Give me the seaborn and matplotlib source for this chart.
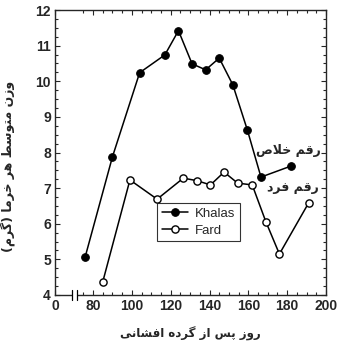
import matplotlib
matplotlib.use("Agg")
import matplotlib.pyplot as plt
import matplotlib.transforms as mtransforms
import seaborn as sns
import pandas as pd

# ── data ──────────────────────────────────────────────────────────────────────
khalas_day = [76, 90, 104, 117, 124, 131, 138, 145, 152, 159.5, 166.5, 182]
khalas_weight = [5.08, 7.88, 10.24, 10.74, 11.42, 10.49, 10.32, 10.65, 9.9, 8.63, 7.31, 7.62]

fard_day = [85, 99, 113, 126.5, 133.5, 140.5, 147.5, 154.5, 162, 169, 176, 191]
fard_weight = [4.37, 7.23, 6.69, 7.28, 7.21, 7.09, 7.45, 7.14, 7.09, 6.06, 5.15, 6.58]

x_tick_pos = [60.4, 80, 100, 120, 140, 160, 180, 200]
x_tick_labels = ["0", "80", "100", "120", "140", "160", "180", "200"]
y_ticks = [4, 5, 6, 7, 8, 9, 10, 11, 12]

xlabel_fa = "روز پس از گرده افشانی"
ylabel_fa = "وزن متوسط هر خرما (گرم)"
khalas_fa = "رقم خلاص"
fard_fa = "رقم فرد"


# matplotlib has no Arabic shaping, so pick presentation forms by hand
FORMS = {
    "ا": ("\uFE8D", "\uFE8E", None, None),
    "د": ("\uFEA9", "\uFEAA", None, None),
    "ر": ("\uFEAD", "\uFEAE", None, None),
    "ز": ("\uFEAF", "\uFEB0", None, None),
    "و": ("\uFEED", "\uFEEE", None, None),
    "ت": ("\uFE95", "\uFE96", "\uFE97", "\uFE98"),
    "خ": ("\uFEA5", "\uFEA6", "\uFEA7", "\uFEA8"),
    "س": ("\uFEB1", "\uFEB2", "\uFEB3", "\uFEB4"),
    "ش": ("\uFEB5", "\uFEB6", "\uFEB7", "\uFEB8"),
    "ص": ("\uFEB9", "\uFEBA", "\uFEBB", "\uFEBC"),
    "ط": ("\uFEC1", "\uFEC2", "\uFEC3", "\uFEC4"),
    "ف": ("\uFED1", "\uFED2", "\uFED3", "\uFED4"),
    "ق": ("\uFED5", "\uFED6", "\uFED7", "\uFED8"),
    "ل": ("\uFEDD", "\uFEDE", "\uFEDF", "\uFEE0"),
    "م": ("\uFEE1", "\uFEE2", "\uFEE3", "\uFEE4"),
    "ن": ("\uFEE5", "\uFEE6", "\uFEE7", "\uFEE8"),
    "ه": ("\uFEE9", "\uFEEA", "\uFEEB", "\uFEEC"),
    "پ": ("\uFB56", "\uFB57", "\uFB58", "\uFB59"),
    "گ": ("\uFB92", "\uFB93", "\uFB94", "\uFB95"),
    "ی": ("\uFBFC", "\uFBFD", "\uFBFE", "\uFBFF"),
}


def fa(text):
    out = []
    i = 0
    n = len(text)
    while i < n:
        ch = text[i]
        if ch not in FORMS:
            out.append(ch)
            i += 1
            continue
        prev = text[i - 1] if i > 0 else ""
        joins_prev = prev in FORMS and FORMS[prev][2] is not None
        if ch == "ل" and i + 1 < n and text[i + 1] == "ا":
            out.append("\uFEFC" if joins_prev else "\uFEFB")
            i += 2
            continue
        nxt = text[i + 1] if i + 1 < n else ""
        joins_next = FORMS[ch][2] is not None and nxt in FORMS
        iso, fin, ini, med = FORMS[ch]
        if joins_prev and joins_next:
            out.append(med)
        elif joins_prev:
            out.append(fin)
        elif joins_next:
            out.append(ini)
        else:
            out.append(iso)
        i += 1
    vis = "".join(reversed(out))
    return vis.translate(str.maketrans("()", ")("))


df_k = pd.DataFrame({"day": khalas_day, "weight": khalas_weight})
df_f = pd.DataFrame({"day": fard_day, "weight": fard_weight})

sns.set_style("ticks")
plt.rcParams["font.family"] = ["Liberation Sans", "DejaVu Sans"]

fig = plt.figure(figsize=(3.4, 3.48), dpi=100)
ax = fig.add_axes([55 / 340, 1 - 295 / 348, (326 - 55) / 340, (295 - 10) / 348])

sns.lineplot(data=df_k, x="day", y="weight", ax=ax, color="black", linewidth=1.1,
             marker="o", markersize=5.5, markerfacecolor="black",
             markeredgecolor="black", label="Khalas", sort=False)
sns.lineplot(data=df_f, x="day", y="weight", ax=ax, color="black", linewidth=1.1,
             marker="o", markersize=5.2, markerfacecolor="white",
             markeredgecolor="black", markeredgewidth=1.0, label="Fard", sort=False)

ax.set_xlim(60.4, 200)
ax.set_ylim(4, 12)
ax.set_xticks(x_tick_pos)
ax.set_xticklabels(x_tick_labels)
ax.set_xticks(list(range(75, 200, 5)), minor=True)
ax.set_yticks(y_ticks)
ax.set_yticks([v / 4 for v in range(16, 48)], minor=True)
for lab in ax.get_xticklabels() + ax.get_yticklabels():
    lab.set_fontweight("bold")
    lab.set_fontsize(10)
ax.tick_params(which="both", direction="in", top=True, right=True, width=0.8)
ax.tick_params(which="major", length=3.5, pad=3)
ax.tick_params(which="minor", length=2)
for s in ax.spines.values():
    s.set_linewidth(1.0)

ax.set_xlabel(fa(xlabel_fa), fontsize=8.5, fontweight="bold", family="DejaVu Sans", labelpad=10)
ax.set_ylabel(fa(ylabel_fa), fontsize=9, fontweight="bold", family="DejaVu Sans", labelpad=12)
ax.yaxis.set_label_coords(-0.145, 0.45)

ax.text(180.5, 8.07, fa(khalas_fa), fontsize=9, fontweight="bold", family="DejaVu Sans",
        ha="center", va="center")
ax.text(183, 7.03, fa(fard_fa), fontsize=9, fontweight="bold", family="DejaVu Sans",
        ha="center", va="center")

# axis break on the x axis
trans = mtransforms.blended_transform_factory(ax.transData, ax.transAxes)
ax.add_patch(plt.Rectangle((69.2, -0.01), 2.6, 0.02, transform=trans,
                           facecolor="white", edgecolor="none", clip_on=False, zorder=5))
for bx in (69.2, 71.8):
    ax.plot([bx, bx], [-0.018, 0.018], transform=trans, color="black",
            linewidth=0.9, clip_on=False, zorder=6)

leg = ax.legend(loc="upper left", bbox_to_anchor=((157 - 55) / 271, (295 - 203) / 285),
                borderaxespad=0, fontsize=9.5, frameon=True, fancybox=False,
                edgecolor="black", handlelength=2.0, borderpad=0.35,
                labelspacing=0.35, handletextpad=0.5)
leg.get_frame().set_linewidth(0.8)

fig.savefig("out.png", dpi=100)
